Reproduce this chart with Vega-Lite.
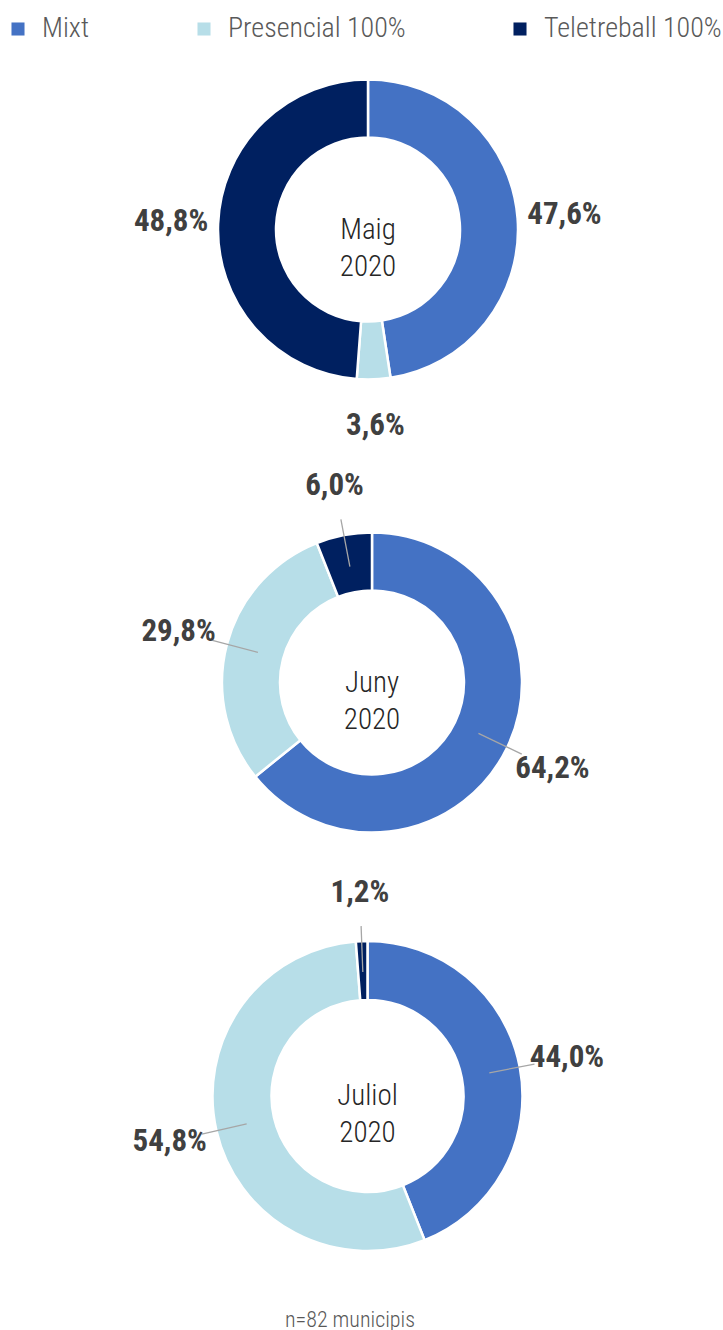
{
  "$schema": "https://vega.github.io/schema/vega-lite/v6.json",
  "padding": {"left": 4, "top": 15, "right": 0, "bottom": 0},
  "background": "white",
  "spacing": 0,
  "bounds": "flush",
  "title": {"text": "n=82 municipis", "orient": "bottom", "anchor": "middle", "fontSize": 22, "fontWeight": 300, "color": "#595959", "offset": 54, "dx": -22},
  "datasets": {
    "d": [
      {"periode": "Maig 2020", "modalitat": "Mixt", "pct": 0.476},
      {"periode": "Maig 2020", "modalitat": "Presencial 100%", "pct": 0.036},
      {"periode": "Maig 2020", "modalitat": "Teletreball 100%", "pct": 0.488},
      {"periode": "Juny 2020", "modalitat": "Mixt", "pct": 0.642},
      {"periode": "Juny 2020", "modalitat": "Presencial 100%", "pct": 0.298},
      {"periode": "Juny 2020", "modalitat": "Teletreball 100%", "pct": 0.06},
      {"periode": "Juliol 2020", "modalitat": "Mixt", "pct": 0.44},
      {"periode": "Juliol 2020", "modalitat": "Presencial 100%", "pct": 0.548},
      {"periode": "Juliol 2020", "modalitat": "Teletreball 100%", "pct": 0.012}
    ]
  },
  "vconcat": [
    {
      "width": 728, "height": 357,
      "data": {"name": "d"},
      "transform": [{"filter": "datum.periode === 'Maig 2020'"}],
      "layer": [
        {
          "mark": {"type": "arc", "radius": 150, "radius2": 92, "stroke": "white", "strokeWidth": 2.5},
          "encoding": {
            "theta": {"field": "pct", "type": "quantitative", "stack": true, "scale": {"domain": [0, 1]}},
            "order": {"field": "modalitat", "type": "ordinal", "sort": "ascending"},
            "color": {"field": "modalitat", "type": "nominal", "scale": {"domain": ["Mixt", "Presencial 100%", "Teletreball 100%"], "range": ["#4472C4", "#B7DEE8", "#002060"]}, "legend": {"title": null}}
          }
        },
        {
          "mark": {"type": "text", "radius": 197, "fontSize": 31, "fontWeight": "bold", "color": "#404040", "align": "center", "baseline": "middle"},
          "encoding": {
            "theta": {"field": "pct", "type": "quantitative", "stack": true, "scale": {"domain": [0, 1]}},
            "order": {"field": "modalitat", "type": "ordinal", "sort": "ascending"},
            "detail": {"field": "modalitat", "type": "nominal"},
            "text": {"field": "pct", "type": "quantitative", "format": ".1%"}
          }
        },
        {
          "transform": [{"aggregate": [{"op": "count", "as": "n"}], "groupby": ["periode"]}],
          "mark": {"type": "text", "fontSize": 29, "fontWeight": 300, "color": "#262626", "align": "center", "baseline": "middle", "lineBreak": " ", "lineHeight": 37},
          "encoding": {"text": {"field": "periode", "type": "nominal"}}
        }
      ]
    },
    {
      "width": 736, "height": 549,
      "data": {"name": "d"},
      "transform": [{"filter": "datum.periode === 'Juny 2020'"}],
      "layer": [
        {
          "mark": {"type": "arc", "radius": 150, "radius2": 92, "stroke": "white", "strokeWidth": 2.5},
          "encoding": {
            "theta": {"field": "pct", "type": "quantitative", "stack": true, "scale": {"domain": [0, 1]}},
            "order": {"field": "modalitat", "type": "ordinal", "sort": "ascending"},
            "color": {"field": "modalitat", "type": "nominal", "scale": {"domain": ["Mixt", "Presencial 100%", "Teletreball 100%"], "range": ["#4472C4", "#B7DEE8", "#002060"]}, "legend": {"title": null}}
          }
        },
        {
          "transform": [
            {"stack": "pct", "groupby": [], "sort": [{"field": "modalitat", "order": "ascending"}], "as": ["v0", "v1"]},
            {"fold": ["v0", "v1"], "as": ["k", "v"]},
            {"aggregate": [{"op": "mean", "field": "v", "as": "mid"}], "groupby": ["modalitat"]}
          ],
          "mark": {"type": "arc", "radius": 166, "radius2": 118, "filled": false, "color": "#A6A6A6", "strokeWidth": 1.3},
          "encoding": {
            "theta": {"field": "mid", "type": "quantitative", "stack": null, "scale": {"domain": [0, 1]}},
            "theta2": {"field": "mid"}
          }
        },
        {
          "mark": {"type": "text", "radius": 200, "fontSize": 31, "fontWeight": "bold", "color": "#404040", "align": "center", "baseline": "middle"},
          "encoding": {
            "theta": {"field": "pct", "type": "quantitative", "stack": true, "scale": {"domain": [0, 1]}},
            "order": {"field": "modalitat", "type": "ordinal", "sort": "ascending"},
            "detail": {"field": "modalitat", "type": "nominal"},
            "text": {"field": "pct", "type": "quantitative", "format": ".1%"}
          }
        },
        {
          "transform": [{"aggregate": [{"op": "count", "as": "n"}], "groupby": ["periode"]}],
          "mark": {"type": "text", "fontSize": 29, "fontWeight": 300, "color": "#262626", "align": "center", "baseline": "middle", "lineBreak": " ", "lineHeight": 37},
          "encoding": {"text": {"field": "periode", "type": "nominal"}}
        }
      ]
    },
    {
      "width": 727, "height": 278,
      "data": {"name": "d"},
      "transform": [{"filter": "datum.periode === 'Juliol 2020'"}],
      "layer": [
        {
          "mark": {"type": "arc", "radius": 155, "radius2": 96, "stroke": "white", "strokeWidth": 2.5},
          "encoding": {
            "theta": {"field": "pct", "type": "quantitative", "stack": true, "scale": {"domain": [0, 1]}},
            "order": {"field": "modalitat", "type": "ordinal", "sort": "ascending"},
            "color": {"field": "modalitat", "type": "nominal", "scale": {"domain": ["Mixt", "Presencial 100%", "Teletreball 100%"], "range": ["#4472C4", "#B7DEE8", "#002060"]}, "legend": {"title": null}}
          }
        },
        {
          "transform": [
            {"stack": "pct", "groupby": [], "sort": [{"field": "modalitat", "order": "ascending"}], "as": ["v0", "v1"]},
            {"fold": ["v0", "v1"], "as": ["k", "v"]},
            {"aggregate": [{"op": "mean", "field": "v", "as": "mid"}], "groupby": ["modalitat"]}
          ],
          "mark": {"type": "arc", "radius": 170, "radius2": 124, "filled": false, "color": "#A6A6A6", "strokeWidth": 1.3},
          "encoding": {
            "theta": {"field": "mid", "type": "quantitative", "stack": null, "scale": {"domain": [0, 1]}},
            "theta2": {"field": "mid"}
          }
        },
        {
          "mark": {"type": "text", "radius": 203, "fontSize": 31, "fontWeight": "bold", "color": "#404040", "align": "center", "baseline": "middle"},
          "encoding": {
            "theta": {"field": "pct", "type": "quantitative", "stack": true, "scale": {"domain": [0, 1]}},
            "order": {"field": "modalitat", "type": "ordinal", "sort": "ascending"},
            "detail": {"field": "modalitat", "type": "nominal"},
            "text": {"field": "pct", "type": "quantitative", "format": ".1%"}
          }
        },
        {
          "transform": [{"aggregate": [{"op": "count", "as": "n"}], "groupby": ["periode"]}],
          "mark": {"type": "text", "fontSize": 29, "fontWeight": 300, "color": "#262626", "align": "center", "baseline": "middle", "lineBreak": " ", "lineHeight": 37},
          "encoding": {"text": {"field": "periode", "type": "nominal"}}
        }
      ]
    }
  ],
  "config": {
    "font": "Roboto Condensed, Roboto, sans-serif",
    "view": {"stroke": null},
    "locale": {"number": {"decimal": ",", "thousands": ".", "grouping": [3], "currency": ["", " €"]}},
    "legend": {
      "orient": "top",
      "direction": "horizontal",
      "symbolType": "square",
      "symbolSize": 170,
      "symbolStrokeWidth": 0,
      "labelFontSize": 28,
      "labelFontWeight": 300,
      "labelColor": "#595959",
      "labelFont": "Roboto Condensed, Roboto, sans-serif",
      "columnPadding": 100,
      "labelOffset": 10,
      "labelLimit": 300,
      "offset": 8,
      "padding": 0
    }
  }
}
